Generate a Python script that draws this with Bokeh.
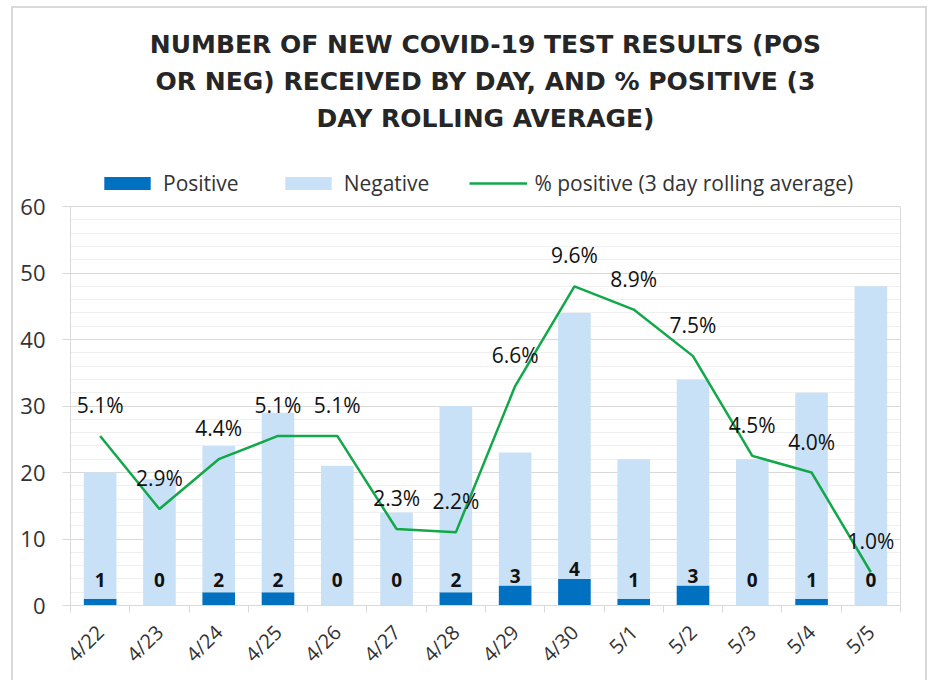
import math
from bokeh.plotting import figure
from bokeh.models import (ColumnDataSource, Range1d, LinearAxis, FixedTicker,
                          SingleIntervalTicker, Title, Legend, LegendItem, LabelSet, Grid)
from bokeh.core.properties import value
from bokeh.embed import file_html
from bokeh.resources import INLINE

# ---- data ----
dates = ["4/22", "4/23", "4/24", "4/25", "4/26", "4/27", "4/28",
         "4/29", "4/30", "5/1", "5/2", "5/3", "5/4", "5/5"]
positive = [1, 0, 2, 2, 0, 0, 2, 3, 4, 1, 3, 0, 1, 0]
negative = [19, 19, 22, 27, 21, 14, 28, 20, 40, 21, 31, 22, 31, 48]
pct_positive = [5.1, 2.9, 4.4, 5.1, 5.1, 2.3, 2.2, 6.6, 9.6, 8.9, 7.5, 4.5, 4.0, 1.0]
title_lines = ["NUMBER OF NEW COVID-19 TEST RESULTS (POS",
               "OR NEG) RECEIVED BY DAY, AND % POSITIVE (3",
               "DAY ROLLING AVERAGE)"]
series_names = ["Positive", "Negative", "% positive (3 day rolling average)"]
count_max = 60      # left axis maximum
pct_max = 12        # hidden secondary scale maximum (%)

x = list(range(len(dates)))
total = [p + n for p, n in zip(positive, negative)]
src = ColumnDataSource(dict(
    x=x, pos=positive, total=total, pct=pct_positive,
    pct_label=[f"{v:.1f}%" for v in pct_positive],
    pos_label=[str(v) for v in positive],
    pos_label_y=[max(v, 2.4) for v in positive],
))

FONT = "Open Sans"
GRID = "#d9d9d9"

W, H = 928, 680
LEFT, RIGHT, TOP, BOTTOM = 70, 28, 135, 75
FRAME_H = H - TOP - BOTTOM          # frame includes the legend strip on top
AXIS_H = 399                        # pixel height of the 0..60 area
stretch = FRAME_H / AXIS_H

p = figure(width=W, height=H, title=None,
           min_border_left=LEFT, min_border_right=RIGHT,
           min_border_top=TOP, min_border_bottom=BOTTOM,
           x_range=Range1d(-0.5, len(dates) - 0.5),
           y_range=Range1d(0, count_max * stretch),
           x_axis_type=None, y_axis_type=None,
           output_backend="svg", toolbar_location=None)
p.extra_y_ranges = {"pct": Range1d(0, pct_max * stretch)}
p.outline_line_color = None
p.background_fill_color = "white"
p.border_fill_color = "white"
p.border_fill_alpha = 0
g = "linear-gradient(#d9d9d9, #d9d9d9)"
p.styles = {"background": (f"{g} 11px 6px / 2px 100% no-repeat, "
                           f"{g} 11px 6px / 916px 2px no-repeat, "
                           f"{g} 925px 6px / 2px 100% no-repeat, white")}
p.xgrid.visible = False
p.ygrid.visible = False

# y axis (left)
yticker = SingleIntervalTicker(interval=10, num_minor_ticks=5)
yaxis = LinearAxis(ticker=yticker, bounds=(0, count_max))
yaxis.axis_line_color = GRID
yaxis.major_tick_line_color = GRID
yaxis.major_tick_out = 8
yaxis.major_tick_in = 0
yaxis.minor_tick_line_color = None
yaxis.major_label_text_font = FONT
yaxis.major_label_text_font_size = "22px"
yaxis.major_label_text_color = "#333333"
yaxis.major_label_standoff = 17
p.add_layout(yaxis, "left")

# right border line of the plot area
raxis = LinearAxis(ticker=FixedTicker(ticks=[]), bounds=(0, count_max))
raxis.axis_line_color = GRID
raxis.major_tick_line_color = None
raxis.minor_tick_line_color = None
raxis.major_label_text_color = None
raxis.major_tick_out = 0
raxis.major_label_standoff = 0
p.add_layout(raxis, "right")

grid = Grid(dimension=1, ticker=yticker, bounds=(0, count_max))
grid.grid_line_color = GRID
grid.minor_grid_line_color = "#efefef"
p.add_layout(grid)

# x axis
xticker = FixedTicker(ticks=x, minor_ticks=[i - 0.5 for i in range(len(dates) + 1)])
xaxis = LinearAxis(ticker=xticker,
                   major_label_overrides={i: d for i, d in enumerate(dates)})
xaxis.axis_line_color = GRID
xaxis.major_tick_line_color = None
xaxis.major_tick_out = 0
xaxis.major_tick_in = 0
xaxis.minor_tick_line_color = GRID
xaxis.minor_tick_out = 7
xaxis.minor_tick_in = 0
xaxis.major_label_orientation = math.pi / 4
xaxis.major_label_text_font = FONT
xaxis.major_label_text_font_size = "20px"
xaxis.major_label_text_color = "#333333"
xaxis.major_label_standoff = 16
p.add_layout(xaxis, "below")

# bars
r_pos = p.vbar(x="x", top="pos", bottom=0, width=0.55, fill_color="#0070c0",
               line_color=None, source=src)
r_neg = p.vbar(x="x", top="total", bottom="pos", width=0.55, fill_color="#c9e1f6",
               line_color=None, source=src)
r_line = p.line(x="x", y="pct", y_range_name="pct", line_color="#12a84a",
                line_width=2.5, source=src)

# labels
pct_labels = LabelSet(x="x", y="pct", y_range_name="pct", text="pct_label", source=src,
                      y_offset=31, text_align="center", text_baseline="middle",
                      text_font=value(FONT), text_font_size=value("21px"),
                      text_color="#111111")
p.add_layout(pct_labels)
pos_labels = LabelSet(x="x", y="pos_label_y", text="pos_label", source=src,
                      y_offset=3, text_align="center", text_baseline="bottom",
                      text_font=value(FONT), text_font_size=value("19px"),
                      text_font_style="bold", text_color="#111111")
p.add_layout(pos_labels)

# legend (in the strip above the 60 line)
legend = Legend(items=[LegendItem(label=series_names[0], renderers=[r_pos]),
                       LegendItem(label=series_names[1], renderers=[r_neg]),
                       LegendItem(label=series_names[2], renderers=[r_line])],
                orientation="horizontal", location=(28, AXIS_H + 9),
                glyph_width=58, glyph_height=16, label_standoff=7, spacing=40,
                padding=0, margin=0, border_line_color=None, background_fill_alpha=0,
                label_text_font=FONT, label_text_font_size="21px",
                label_text_color="#333333")
p.add_layout(legend)

standoffs = [6, 6, 6]
for line, so in reversed(list(zip(title_lines, standoffs))):
    p.add_layout(Title(text=line, align="center", text_font="DejaVu Sans",
                       text_font_size="25px", text_font_style="bold",
                       text_color="#262626", standoff=so), "above")

open("out.html", "w").write(file_html(p, INLINE))
